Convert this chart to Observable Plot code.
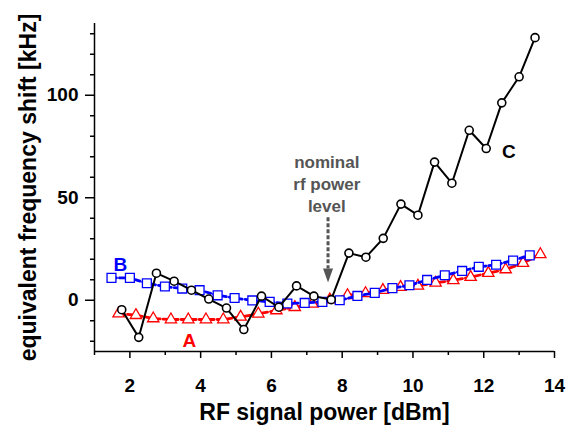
<!DOCTYPE html>
<html><head><meta charset="utf-8">
<script src="https://cdn.jsdelivr.net/npm/d3@7"></script>
<script src="https://cdn.jsdelivr.net/npm/@observablehq/plot@0.6"></script>
<style>body{margin:0;background:#fff}</style>
</head><body><div id="chart"></div>
<script>
// Series C (black circles)
const cX = [1.77,2.25,2.75,3.25,3.74,4.23,4.73,5.22,5.72,6.21,6.71,7.20,7.69,8.19,8.67,9.16,9.66,10.14,10.61,11.10,11.59,12.07,12.51,13.00,13.45];
const cY = [-4.6,-18.1,13.2,9.3,4.9,0.6,-3.8,-14.3,2.0,-3.4,7.0,2.0,0.3,23.0,21.0,30.2,46.9,41.5,67.4,57.1,82.9,74.0,96.3,109.0,128.1];
// Series B (blue squares)
const bX = [1.48,2.00,2.48,2.99,3.48,3.97,4.48,4.96,5.46,5.95,6.45,6.94,7.44,7.93,8.43,8.92,9.42,9.90,10.40,10.90,11.39,11.86,12.35,12.83,13.30];
const bY = [10.9,10.9,8.3,6.7,5.7,4.9,2.4,1.1,-0.1,-0.8,-1.6,-1.3,-0.8,0.0,2.1,3.6,5.9,7.3,9.9,12.2,14.3,16.3,17.3,19.4,21.9];
// Series A (red triangles)
const aX = [1.68,2.17,2.66,3.16,3.65,4.15,4.64,5.13,5.63,6.14,6.66,7.16,7.65,8.15,8.66,9.15,9.65,10.14,10.64,11.14,11.63,12.13,12.62,13.11,13.60];
const aY = [-6.5,-7.3,-8.9,-9.4,-9.4,-9.4,-9.4,-8.1,-6.6,-5.0,-3.4,-1.8,0.3,2.4,3.4,4.9,6.4,7.0,8.5,9.7,11.3,13.2,15.0,18.1,22.4];

// Axis ticks
const xMajor = [2,4,6,8,10,12,14];
const xMinor = [1,3,5,7,9,11,13];
const yMajor = [0,50,100];
const yMinor = [-20,-10,10,20,30,40,60,70,80,90,110,120,130];

// Series labels
const labelText = ["A","B","C"];
const labelX = [3.68,1.73,12.71];
const labelY = [-19.6,17.2,72.3];
const labelColor = ["#ff0000","#0000ff","#000000"];

// Annotation
const noteText = ["nominal","rf power","level"];
const noteX = [7.565,7.565,7.565];
const noteY = [67.0,56.2,45.6];
const arrowX = 7.60, arrowTop = 40.5, arrowBottom = 15.5, arrowHeadY = 12.1;

const zip = (xs, ys) => xs.map((x, i) => ({x, y: ys[i]}));
const A = zip(aX, aY), B = zip(bX, bY), C = zip(cX, cY);
const labels = labelText.map((t, i) => ({t, x: labelX[i], y: labelY[i], c: labelColor[i]}));
const notes = noteText.map((t, i) => ({t, x: noteX[i], y: noteY[i]}));

const headSymbol = {draw(ctx) { ctx.moveTo(-5,-7); ctx.lineTo(5,-7); ctx.lineTo(0,7); ctx.closePath(); }};

const font = "Liberation Sans, Arial, sans-serif";
const chart = Plot.plot({
  width: 568, height: 425,
  marginLeft: 94, marginRight: 14, marginTop: 23, marginBottom: 74,
  style: {fontFamily: font, fontWeight: "bold", background: "#fff", color: "#000"},
  x: {domain: [1, 14], label: null},
  y: {domain: [-25, 135], label: null},
  color: {type: "identity"},
  marks: [
    Plot.ruleX([1], {stroke: "#000", strokeWidth: 1.5}),
    Plot.ruleY([-25], {stroke: "#000", strokeWidth: 1.5}),
    Plot.axisX(xMinor, {tickSize: 4, tickFormat: () => "", strokeWidth: 1.5, label: null}),
    Plot.axisX(xMajor, {tickSize: 7, tickPadding: 20, fontSize: 19, fontWeight: "bold", strokeWidth: 1.5, label: null}),
    Plot.axisY(yMinor, {tickSize: 4, tickFormat: () => "", strokeWidth: 1.5, label: null}),
    Plot.axisY(yMajor, {tickSize: 9, tickPadding: 7, fontSize: 19, fontWeight: "bold", strokeWidth: 1.5, label: null}),
    Plot.text(["RF signal power [dBm]"], {frameAnchor: "bottom", dy: 52, lineAnchor: "top", fontSize: 23, fontWeight: "bold", fill: "#000"}),
    Plot.text(["equivalent frequency shift [kHz]"], {frameAnchor: "left", dx: -66, rotate: -90, textAnchor: "middle", lineAnchor: "middle", fontSize: 23, fontWeight: "bold", fill: "#000"}),
    Plot.line(A, {x: "x", y: "y", stroke: "#ff0000", strokeWidth: 2.8, strokeDasharray: "6,3"}),
    Plot.dot(A, {x: "x", y: "y", symbol: "triangle", r: 4.2, fill: "#fff", stroke: "#ff0000", strokeWidth: 1.3}),
    Plot.line(B, {x: "x", y: "y", stroke: "#0000ff", strokeWidth: 2.8, strokeDasharray: "5,3"}),
    Plot.dot(B, {x: "x", y: "y", symbol: "square", r: 5, fill: "#fff", stroke: "#0000ff", strokeWidth: 1.3}),
    Plot.line(C, {x: "x", y: "y", stroke: "#000", strokeWidth: 2}),
    Plot.dot(C, {x: "x", y: "y", symbol: "circle", r: 4, fill: "#fff", stroke: "#000", strokeWidth: 1.6}),
    Plot.text(labels, {x: "x", y: "y", text: "t", fill: "c", fontSize: 19, fontWeight: "bold"}),
    Plot.text(notes, {x: "x", y: "y", text: "t", fill: "#555", fontSize: 17, fontWeight: "bold"}),
    Plot.link([{x: arrowX, y1: arrowTop, y2: arrowBottom}], {x1: "x", x2: "x", y1: "y1", y2: "y2", stroke: "#555", strokeWidth: 3, strokeDasharray: "4,2"}),
    Plot.dot([{x: arrowX, y: arrowHeadY}], {x: "x", y: "y", symbol: headSymbol, fill: "#555", stroke: "none"})
  ]
});
document.getElementById("chart").appendChild(chart);
</script>
</body></html>
